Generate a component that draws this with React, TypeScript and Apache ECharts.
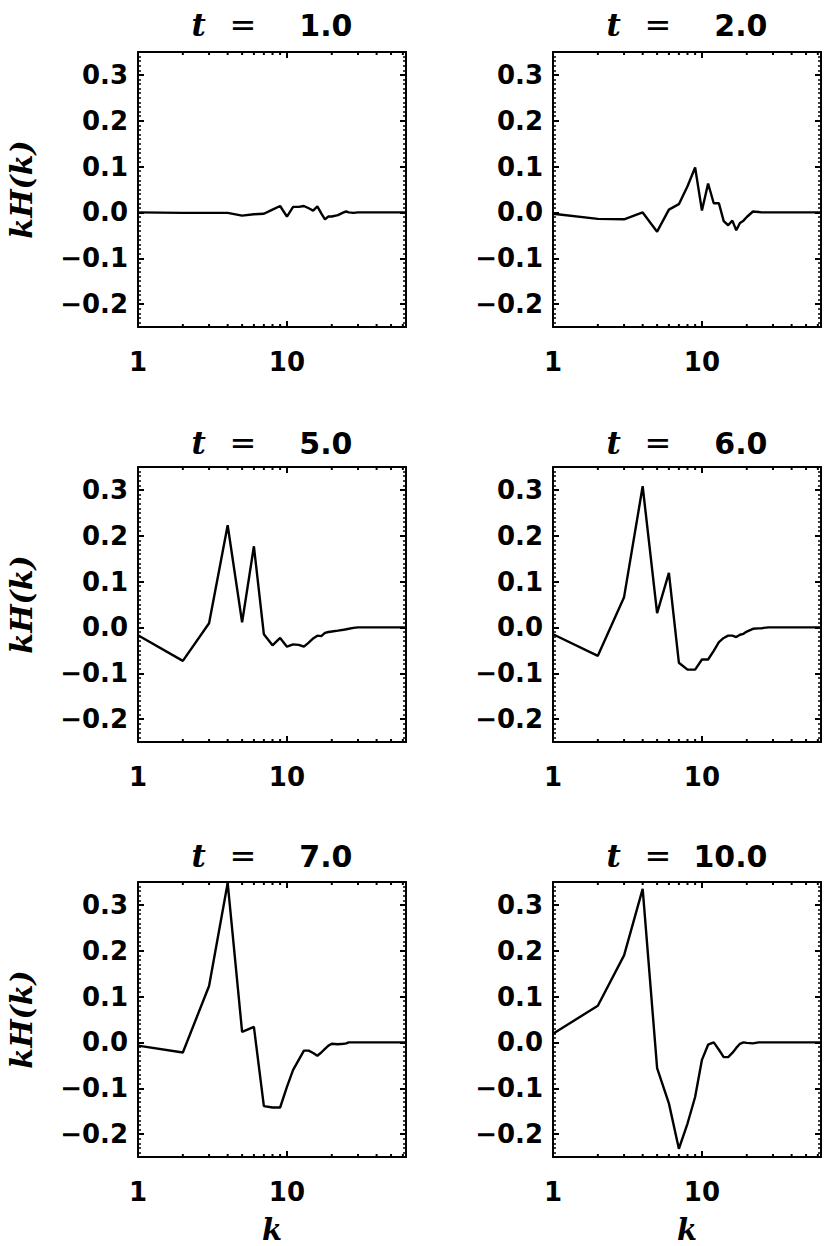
import React, { useEffect, useRef } from "react";
import * as echarts from "echarts";

// wavenumbers k at which kH(k) was read
const K_VALUES = [1, 2, 3, 4, 5, 6, 7, 8, 9, 10, 11, 12, 13, 14, 15, 16, 17, 18, 19, 20, 22, 24, 25, 26, 28, 30, 40, 50, 63];

const KH_T1 = [0.0, -0.001, -0.001, -0.001, -0.007, -0.004, -0.003, 0.006, 0.014, -0.009, 0.012, 0.012, 0.014, 0.009, 0.004, 0.013, -0.002, -0.015, -0.009, -0.009, -0.006, 0.0, 0.002, 0.0, -0.001, 0.0, 0.0, 0.0, 0.0];
const KH_T2 = [-0.003, -0.014, -0.015, 0.0, -0.042, 0.006, 0.018, 0.057, 0.098, 0.004, 0.063, 0.02, 0.02, -0.019, -0.028, -0.018, -0.039, -0.023, -0.018, -0.01, 0.002, 0.001, 0.0, 0.0, 0.0, 0.0, 0.0, 0.0, 0.0];
const KH_T5 = [-0.017, -0.073, 0.009, 0.223, 0.011, 0.177, -0.015, -0.039, -0.023, -0.042, -0.037, -0.038, -0.042, -0.033, -0.024, -0.018, -0.019, -0.012, -0.01, -0.009, -0.007, -0.005, -0.004, -0.003, -0.001, 0.0, 0.0, 0.0, 0.0];
const KH_T6 = [-0.015, -0.062, 0.066, 0.308, 0.031, 0.119, -0.077, -0.092, -0.092, -0.07, -0.07, -0.051, -0.032, -0.023, -0.018, -0.018, -0.021, -0.016, -0.014, -0.009, -0.003, -0.002, -0.002, -0.001, 0.0, 0.0, 0.0, 0.0, 0.0];
const KH_T7 = [-0.007, -0.022, 0.123, 0.348, 0.023, 0.034, -0.139, -0.142, -0.142, -0.097, -0.06, -0.038, -0.018, -0.018, -0.023, -0.029, -0.022, -0.014, -0.007, -0.003, -0.004, -0.003, -0.002, 0.0, 0.0, 0.0, 0.0, 0.0, 0.0];
const KH_T10 = [0.019, 0.08, 0.19, 0.335, -0.056, -0.133, -0.232, -0.177, -0.119, -0.038, -0.005, 0.0, -0.016, -0.032, -0.032, -0.023, -0.012, -0.003, 0.0, -0.001, -0.002, 0.0, 0.0, 0.0, 0.0, 0.0, 0.0, 0.0, 0.0];

const PANEL_SERIES = [KH_T1, KH_T2, KH_T5, KH_T6, KH_T7, KH_T10];
const PANEL_TIMES = ["1.0", "2.0", "5.0", "6.0", "7.0", "10.0"];

const X_MINOR_TICKS = [2, 3, 4, 5, 6, 7, 8, 9, 20, 30, 40, 50, 60];
const X_MIN = 1;
const X_MAX = 63;
const Y_MIN = -0.25;
const Y_MAX = 0.35;
const Y_MINOR_STEP = 0.01;

const Y_NAME = "kH(k)";
const X_NAME = "k";

// layout
const COL_LEFT = [138, 553];
const ROW_TOP = [52, 467, 882];
const PANEL_W = 268;
const PANEL_H = 275;
const TITLE_CENTER_Y = [25, 443, 856];

const SANS = "DejaVu Sans";
const SERIF = "DejaVu Serif";
const MAJOR_LEN = 6;
const MINOR_LEN = 3;

function yLabel(v: number): string {
  const r = Math.round(v * 10);
  if (Math.abs(v * 10 - r) > 1e-6) return "";
  const s = Math.abs(r / 10).toFixed(1);
  return r < 0 ? "\u2212" + s : s;
}

function xLabel(v: number): string {
  const l = Math.log10(v);
  const r = Math.round(l);
  if (Math.abs(l - r) > 1e-6) return "";
  return String(Math.round(Math.pow(10, r)));
}

function buildOption() {
  const grid: any[] = [];
  const xAxis: any[] = [];
  const yAxis: any[] = [];
  const series: any[] = [];
  const title: any[] = [];

  const line = { color: "#000", width: 2 };

  PANEL_SERIES.forEach((vals, i) => {
    const col = i % 2;
    const row = Math.floor(i / 2);
    const left = COL_LEFT[col];
    const top = ROW_TOP[row];
    grid.push({ left, top, width: PANEL_W, height: PANEL_H, containLabel: false, outerBoundsMode: "none" });

    const isBottom = row === 2;
    const isLeft = col === 0;

    // bottom x axis
    xAxis.push({
      type: "log",
      logBase: 10,
      gridIndex: i,
      position: "bottom",
      min: X_MIN,
      max: X_MAX,
      axisLine: { show: true, onZero: false, lineStyle: line },
      axisTick: { show: true, inside: true, length: MAJOR_LEN, lineStyle: line },
      axisLabel: {
        show: true,
        margin: 22,
        formatter: xLabel,
        fontFamily: SANS,
        fontWeight: "bold",
        fontSize: 26,
        color: "#000",
      },
      splitLine: { show: false },
      minorTick: { show: false },
      name: isBottom ? X_NAME : "",
      nameLocation: "middle",
      nameGap: 58,
      nameTextStyle: { fontFamily: SERIF, fontStyle: "italic", fontWeight: "bold", fontSize: 29, color: "#000" },
    });
    // top x axis
    xAxis.push({
      type: "log",
      logBase: 10,
      gridIndex: i,
      position: "top",
      min: X_MIN,
      max: X_MAX,
      axisLine: { show: true, onZero: false, lineStyle: line },
      axisTick: { show: true, inside: true, length: MAJOR_LEN, lineStyle: line },
      axisLabel: { show: false },
      splitLine: { show: false },
    });

    const yBase = (position: string) => ({
      type: "value",
      gridIndex: i,
      position,
      min: Y_MIN,
      max: Y_MAX,
      splitLine: { show: false },
    });

    // left major
    yAxis.push({
      ...yBase("left"),
      splitNumber: 6,
      axisLine: { show: true, onZero: false, lineStyle: line },
      axisTick: { show: true, inside: true, length: MAJOR_LEN, lineStyle: line },
      axisLabel: {
        show: true,
        margin: 10,
        formatter: yLabel,
        fontFamily: SANS,
        fontWeight: "bold",
        fontSize: 26,
        color: "#000",
      },
      name: isLeft ? Y_NAME : "",
      nameLocation: "middle",
      nameRotate: 90,
      nameGap: 102,
      nameTextStyle: { fontFamily: SERIF, fontStyle: "italic", fontWeight: "bold", fontSize: 30, color: "#000" },
    });
    // left minor
    yAxis.push({
      ...yBase("left"),
      interval: Y_MINOR_STEP,
      axisLine: { show: false },
      axisTick: { show: true, inside: true, length: MINOR_LEN, lineStyle: { color: "#000", width: 1.5 } },
      axisLabel: { show: false },
    });
    // right major
    yAxis.push({
      ...yBase("right"),
      splitNumber: 6,
      axisLine: { show: true, onZero: false, lineStyle: line },
      axisTick: { show: true, inside: true, length: MAJOR_LEN, lineStyle: line },
      axisLabel: { show: false },
    });
    // right minor
    yAxis.push({
      ...yBase("right"),
      interval: Y_MINOR_STEP,
      axisLine: { show: false },
      axisTick: { show: true, inside: true, length: MINOR_LEN, lineStyle: { color: "#000", width: 1.5 } },
      axisLabel: { show: false },
    });

    series.push({
      type: "line",
      xAxisIndex: 2 * i,
      yAxisIndex: 4 * i,
      data: K_VALUES.map((k, j) => [k, vals[j]]),
      showSymbol: false,
      symbol: "none",
      lineStyle: { color: "#000", width: 2.4 },
      clip: true,
      silent: true,
      z: 3,
    });

    series.push({
      type: "custom",
      xAxisIndex: 2 * i,
      yAxisIndex: 4 * i,
      data: X_MINOR_TICKS.map((k) => [k, 0]),
      encode: { x: 0, y: 1 },
      clip: false,
      silent: true,
      renderItem: (_params: any, api: any) => {
        const k = api.value(0);
        const b = api.coord([k, Y_MIN]);
        const t = api.coord([k, Y_MAX]);
        const st = { stroke: "#000", lineWidth: 2 };
        return {
          type: "group",
          children: [
            { type: "line", shape: { x1: b[0], y1: b[1], x2: b[0], y2: b[1] - MINOR_LEN }, style: st },
            { type: "line", shape: { x1: t[0], y1: t[1], x2: t[0], y2: t[1] + MINOR_LEN }, style: st },
          ],
        };
      },
    });

    const t = PANEL_TIMES[i];
    title.push({
      text: `{t|t}{e|=}{n|${t}}`,
      left: left + PANEL_W / 2,
      top: TITLE_CENTER_Y[row] - 15,
      textAlign: "center",
      padding: 0,
      textStyle: {
        rich: {
          t: { fontFamily: SERIF, fontStyle: "italic", fontWeight: "bold", fontSize: 31, color: "#000", width: 38, align: "left", lineHeight: 30 },
          e: { fontFamily: SANS, fontWeight: "normal", fontSize: 32, color: "#000", width: 48, align: "left", lineHeight: 30 },
          n: { fontFamily: SANS, fontWeight: "bold", fontSize: 30, color: "#000", width: 75, align: "right", lineHeight: 30 },
        },
      },
    });
  });

  return {
    animation: false,
    backgroundColor: "#fff",
    title,
    grid,
    xAxis,
    yAxis,
    series,
  };
}

export default function App() {
  const ref = useRef<HTMLDivElement>(null);
  useEffect(() => {
    if (!ref.current) return;
    const chart = echarts.init(ref.current, undefined, { renderer: "svg" });
    chart.setOption(buildOption() as any);
    return () => chart.dispose();
  }, []);
  return (
    <div
      ref={ref}
      style={{ position: "absolute", left: 0, top: 0, width: 830, height: 1246, background: "#fff" }}
    />
  );
}
